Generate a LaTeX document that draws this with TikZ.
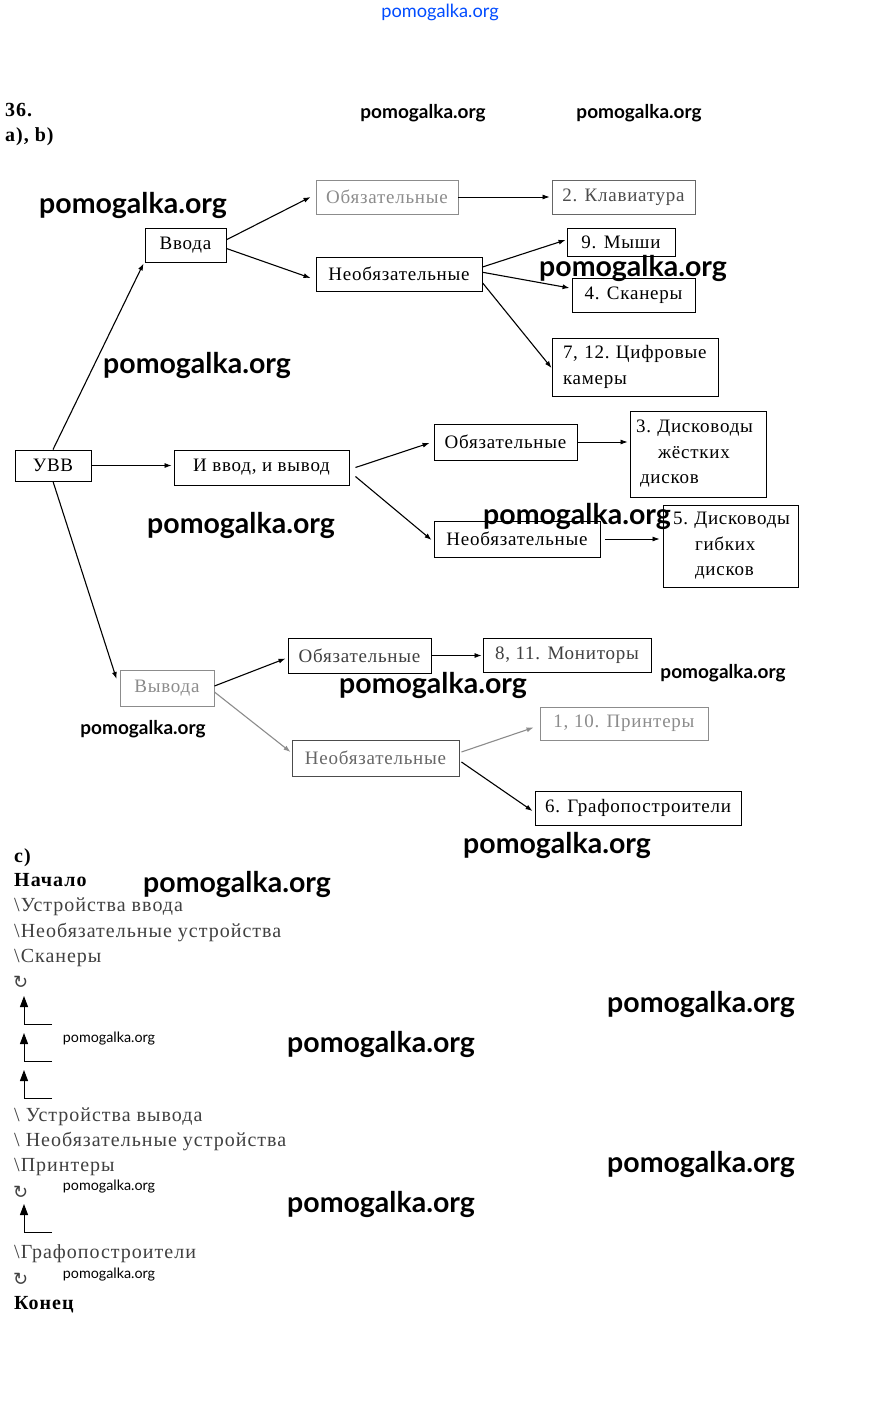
\documentclass[tikz,border=0pt]{standalone}
\usepackage{fontspec}
\setmainfont{Liberation Serif}
\newfontfamily\wmfont{Lato}
\newfontfamily\symfont{DejaVu Sans}
\newfontfamily\boxfont[LetterSpace=4]{Liberation Serif}
\newfontfamily\cfont[LetterSpace=5]{Liberation Serif}
\usetikzlibrary{arrows.meta,calc}
\hbadness=10000 \hfuzz=200pt
\tikzset{
  box/.style={draw=black, line width=0.9pt, inner sep=0pt, font=\boxfont\fontsize{19}{25.5}\selectfont},
  faintbox/.style={box, draw=black!45, text=black!45},
  conn/.style={line width=1.1pt, -{Latex[length=7pt,width=5pt]}},
  faintconn/.style={conn, draw=black!45},
  ctext/.style={anchor=base west, inner sep=0pt, text=black!75, font=\cfont\fontsize{20}{24}\selectfont},
  btext/.style={anchor=base west, inner sep=0pt, font=\cfont\bfseries\fontsize{20}{24}\selectfont},
  loopsym/.style={anchor=base west, inner sep=0pt, text=black!75, font=\symfont\fontsize{18}{20}\selectfont},
  upconn/.style={line width=1pt, -{Triangle[length=11pt,width=8pt]}},
  wmbig/.style={inner sep=0pt, font=\wmfont\bfseries\fontsize{28.5}{30}\selectfont},
  wmsmall/.style={inner sep=0pt, font=\wmfont\bfseries\fontsize{19}{21}\selectfont},
  wmtiny/.style={inner sep=0pt, font=\wmfont\fontsize{14.3}{16}\selectfont},
}
\begin{document}
\begin{tikzpicture}[x=1pt,y=-1pt]
\useasboundingbox[fill=white] (0,0) rectangle (877,1418);

% header
\node[inner sep=0pt, text=blue!70!cyan, font=\wmfont\fontsize{18.2}{20}\selectfont] (wm0) at (440,12) {pomogalka.org};
\node[btext] (h36) at (5,117) {36.};
\node[btext] (hab) at (5,142) {a), b)};

% boxes
\node[faintbox, minimum width=142pt, minimum height=34pt] (ob1) at (387,197) {Обязательные};
\node[box, draw=black!60, text=black!70, minimum width=143pt, minimum height=34pt] (kl) at (623.5,197) {2. Клавиатура};
\node[box, minimum width=81pt, minimum height=34pt] (vv) at (185.5,245) {Ввода};
\node[box, minimum width=166pt, minimum height=34pt] (nb1) at (399,274) {Необязательные};
\node[box, minimum width=108pt, minimum height=28pt] (ms) at (621,242) {9. Мыши};
\node[box, minimum width=123pt, minimum height=34pt] (sk) at (633.5,295) {4. Сканеры};
\node[box, minimum width=166pt, minimum height=58pt, align=left, text width=144pt] (cf) at (635,367) {7,~12.~Цифровые\\камеры};

\node[box, minimum width=76pt, minimum height=31pt] (uvv) at (53,465.5) {УВВ};
\node[box, minimum width=175pt, minimum height=35pt] (iv) at (261.5,467.5) {И ввод, и вывод};
\node[box, minimum width=143pt, minimum height=36pt] (ob2) at (505.5,442) {Обязательные};
\node[box, minimum width=136pt, minimum height=86pt, align=left, text width=124pt] (hd) at (698,454) {3.~Дисководы\\\hspace*{22pt}жёстких\\\hspace*{4pt}дисков};
\node[box, minimum width=166pt, minimum height=36pt] (nb2) at (517,539) {Необязательные};
\node[box, minimum width=135pt, minimum height=82pt, align=left, text width=115pt] (fd) at (730.5,546) {5.~Дисководы\\\hspace*{22pt}гибких\\\hspace*{22pt}дисков};

\node[faintbox, minimum width=94pt, minimum height=36pt] (vyv) at (167,688) {Вывода};
\node[box, text=black!75, minimum width=143pt, minimum height=35pt] (ob3) at (359.5,655.5) {Обязательные};
\node[box, text=black!75, minimum width=168pt, minimum height=34pt] (mn) at (567,655) {8, 11. Мониторы};
\node[faintbox, minimum width=168pt, minimum height=33pt] (pr) at (624,723.5) {1, 10. Принтеры};
\node[box, draw=black!70, text=black!60, minimum width=167pt, minimum height=36pt] (nb3) at (375.5,758) {Необязательные};
\node[box, minimum width=206pt, minimum height=34pt] (gr) at (638,808) {6. Графопостроители};

% connectors
\draw[conn] (uvv.north) -- ($(vv.south west)+(-1,1)$);
\draw[conn, line width=0.8pt] (uvv.east) -- ($(uvv.east -| iv.west)+(-2,0)$);
\draw[conn] (uvv.south) -- ($(vyv.west)+(-3,-9)$);

\draw[conn] ($(vv.north east)!0.35!(vv.south east)$) -- ($(ob1.west)+(-5,0)$);
\draw[conn] ($(vv.north east)!0.6!(vv.south east)$) -- ($(nb1.west)+(-5,4)$);
\draw[conn, line width=0.8pt] (ob1.east) -- ($(kl.west)+(-2,0)$);
\draw[conn] ($(nb1.north east)!0.3!(nb1.south east)$) -- ($(ms.west)+(-1,-2)$);
\draw[conn] ($(nb1.north east)!0.45!(nb1.south east)$) -- ($(sk.west)+(-2,-7)$);
\draw[conn] ($(nb1.north east)!0.75!(nb1.south east)$) -- ($(cf.west)+(0,1)$);

\draw[conn] ($(iv.east)+(6,0)$) -- ($(ob2.west)+(-4,1)$);
\draw[conn] ($(iv.east)+(6,9)$) -- ($(nb2.west)+(-2,1)$);
\draw[conn, line width=0.8pt] (ob2.east) -- ($(ob2.east -| hd.west)+(-2,0)$);
\draw[conn, line width=0.8pt] ($(nb2.east)+(5,0)$) -- ($(nb2.east -| fd.west)+(-3,0)$);

\draw[conn] ($(vyv.east)+(0,-2)$) -- ($(ob3.west)+(-2,3)$);
\draw[faintconn] ($(vyv.east)+(0,4)$) -- ($(nb3.west)+(-1,-6)$);
\draw[conn, line width=0.8pt] (ob3.east) -- ($(ob3.east -| mn.west)+(-1,0)$);
\draw[faintconn] ($(nb3.east)+(2,-6)$) -- ($(pr.west)+(-6,4)$);
\draw[conn] ($(nb3.east)+(2,4)$) -- ($(gr.west)+(-2,3)$);

% part c
\node[btext] (pc) at (14,862) {c)};
\node[btext] (beg) at (14,886) {Начало};
\node[ctext] (c1) at (14,911) {\textbackslash Устройства ввода};
\node[ctext] (c2) at (14,937) {\textbackslash Необязательные устройства};
\node[ctext] (c3) at (14,962) {\textbackslash Сканеры};
\node[loopsym] (l1) at (13,988) {↻};
\draw[upconn] (52,1024) -- (24,1024) -- (24,996);
\draw[upconn] (52,1061) -- (24,1061) -- (24,1033);
\draw[upconn] (52,1098) -- (24,1098) -- (24,1070);
\node[ctext] (c4) at (14,1121) {\textbackslash\ Устройства вывода};
\node[ctext] (c5) at (14,1146) {\textbackslash\ Необязательные устройства};
\node[ctext] (c6) at (14,1171) {\textbackslash Принтеры};
\node[loopsym] (l2) at (13,1198) {↻};
\draw[upconn] (52,1232) -- (24,1232) -- (24,1204);
\node[ctext] (c7) at (14,1258) {\textbackslash Графопостроители};
\node[loopsym] (l3) at (13,1285) {↻};
\node[btext] (fin) at (14,1309) {Конец};

% watermarks
\node[wmsmall] (w1) at (423,113) {pomogalka.org};
\node[wmsmall] (w2) at (639,113) {pomogalka.org};
\node[wmbig] (w3) at (133,205) {pomogalka.org};
\node[wmbig] (w4) at (633,268) {pomogalka.org};
\node[wmbig] (w5) at (197,365) {pomogalka.org};
\node[wmbig] (w6) at (241,525) {pomogalka.org};
\node[wmbig] (w7) at (577,516) {pomogalka.org};
\node[wmbig] (w8) at (433,685) {pomogalka.org};
\node[wmsmall] (w9) at (723,673) {pomogalka.org};
\node[wmsmall] (w10) at (143,729) {pomogalka.org};
\node[wmbig] (w11) at (557,845) {pomogalka.org};
\node[wmbig] (w12) at (237,884) {pomogalka.org};
\node[wmbig] (w13) at (701,1004) {pomogalka.org};
\node[wmtiny] (w14) at (109,1039) {pomogalka.org};
\node[wmbig] (w15) at (381,1044) {pomogalka.org};
\node[wmbig] (w16) at (701,1164) {pomogalka.org};
\node[wmtiny] (w17) at (109,1187) {pomogalka.org};
\node[wmbig] (w18) at (381,1204) {pomogalka.org};
\node[wmtiny] (w19) at (109,1275) {pomogalka.org};
\end{tikzpicture}
\end{document}
